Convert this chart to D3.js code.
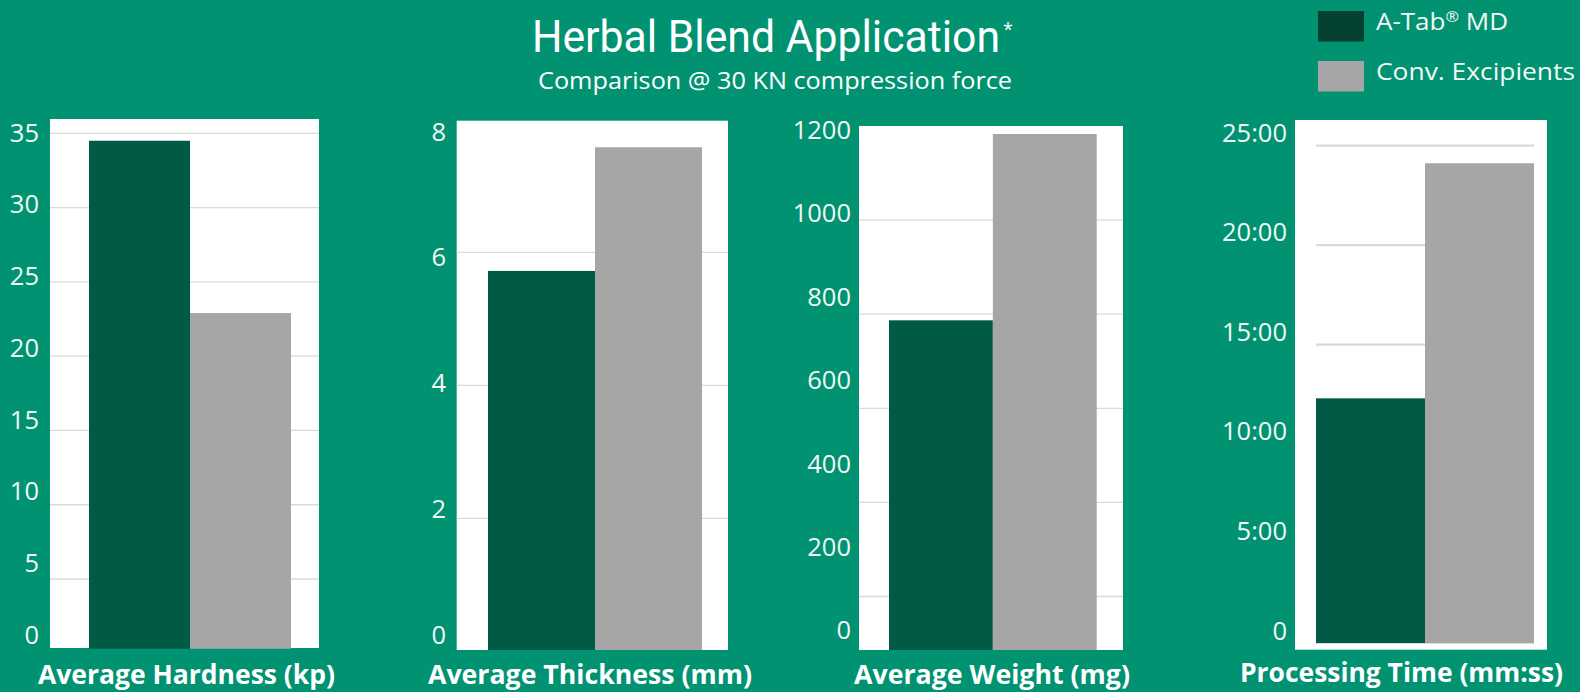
<!DOCTYPE html>
<html>
<head>
<meta charset="utf-8">
<script src="https://cdn.jsdelivr.net/npm/d3@7"></script>
<style>
  html, body { margin: 0; padding: 0; background: #019371; }
  svg { display: block; }
</style>
</head>
<body>
<script>
// ---------- DATA ----------
const seriesNames = ["A-Tab® MD", "Conv. Excipients"];
const metricNames = ["Average Hardness (kp)", "Average Thickness (mm)", "Average Weight (mg)", "Processing Time (mm:ss)"];
const aTabValues = [34.5, 5.72, 787, 738];      // last value in seconds (12:18)
const convValues = [22.9, 7.58, 1183, 1447];    // last value in seconds (24:07)
const hardnessTicks = [0, 5, 10, 15, 20, 25, 30, 35];
const thicknessTicks = [0, 2, 4, 6, 8];
const weightTicks = [0, 200, 400, 600, 800, 1000, 1200];
const timeTicks = [0, 300, 600, 900, 1200, 1500];
const titleText = "Herbal Blend Application";
const subtitleText = "Comparison @ 30 KN compression force";

// ---------- LAYOUT (positions only) ----------
const W = 1580, H = 692;
const layout = [
  { x0: 50, x1: 319, top: 119, bottom: 648, zeroY: 653.3, maxY: 133.3, clip: 648.7,
    bx0: 89, bx1: 291, lblRight: 39, lblZero: 634, lblMax: 132, titleX: 186.5, titleY: 684, titleW: 297, gx0: 50, gx1: 319, gw: 1.3 },
  { x0: 456.7, x1: 728, top: 120.7, bottom: 650, zeroY: 651.3, maxY: 119.3, clip: 650,
    bx0: 488, bx1: 702, lblRight: 446, lblZero: 634, lblMax: 131, titleX: 590, titleY: 684, titleW: 324, gx0: 456.7, gx1: 728, gw: 1.3 },
  { x0: 859, x1: 1123, top: 126, bottom: 650, zeroY: 690.6, maxY: 126, clip: 650,
    bx0: 889, bx1: 1096.7, lblRight: 851, lblZero: 629.6, lblMax: 129.4, titleX: 992, titleY: 684, titleW: 276, gx0: 859, gx1: 1123, gw: 1.3 },
  { x0: 1295, x1: 1547, top: 120, bottom: 649.7, zeroY: 643, maxY: 145.7, clip: 649.7,
    bx0: 1316, bx1: 1534, lblRight: 1287, lblZero: 630, lblMax: 132, titleX: 1401.5, titleY: 682, titleW: 323, gx0: 1316, gx1: 1534, gw: 2.2, baseline: true }
];
const tickSets = [hardnessTicks, thicknessTicks, weightTicks, timeTicks];
const fmtTime = s => s === 0 ? "0" : Math.floor(s / 60) + ":" + String(s % 60).padStart(2, "0");
const tickFormats = [d => d, d => d, d => d, fmtTime];

const colors = { bg: "#019371", dark: "#005a46", gray: "#a6a6a6", grid: "#dadada",
                 legendDark: "#044131", legendGray: "#a6a6a8", text: "#f2f8f5" };

const svg = d3.select("body").append("svg").attr("width", W).attr("height", H);
svg.append("rect").attr("width", W).attr("height", H).attr("fill", colors.bg);

const defs = svg.append("defs");

layout.forEach((L, i) => {
  const ticks = tickSets[i];
  const maxTick = ticks[ticks.length - 1];
  const values = [aTabValues[i], convValues[i]];
  const g = svg.append("g");

  // white plot panel
  g.append("rect").attr("x", L.x0).attr("y", L.top)
    .attr("width", L.x1 - L.x0).attr("height", L.bottom - L.top).attr("fill", "#ffffff");

  const y = d3.scaleLinear().domain([0, maxTick]).range([L.zeroY, L.maxY]);
  const x = d3.scaleBand().domain(seriesNames).range([L.bx0, L.bx1]).paddingInner(0).paddingOuter(0);

  // gridlines
  const gridTicks = ticks.filter(t => (t > 0 || L.baseline) && y(t) > L.top + 2 && y(t) < L.bottom);
  g.selectAll(".grid").data(gridTicks).join("line")
    .attr("x1", L.gx0).attr("x2", L.gx1)
    .attr("y1", d => y(d)).attr("y2", d => y(d))
    .attr("stroke", colors.grid).attr("stroke-width", L.gw);

  // clip
  const cid = "clip" + i;
  defs.append("clipPath").attr("id", cid).append("rect")
    .attr("x", L.x0 - 5).attr("y", 0).attr("width", L.x1 - L.x0 + 10).attr("height", L.clip);

  g.append("g").attr("clip-path", `url(#${cid})`)
    .selectAll("rect").data(values).join("rect")
    .attr("x", (d, j) => x(seriesNames[j]))
    .attr("width", x.bandwidth())
    .attr("y", d => y(d))
    .attr("height", d => y(0) - y(d))
    .attr("fill", (d, j) => j === 0 ? colors.dark : colors.gray);

  // tick labels via axis on label-position scale
  const yl = d3.scaleLinear().domain([0, maxTick]).range([L.lblZero, L.lblMax]);
  const ax = g.append("g").attr("transform", `translate(${L.lblRight + 9},0)`)
    .call(d3.axisLeft(yl).tickValues(ticks).tickFormat(tickFormats[i]).tickSize(0).tickPadding(9));
  ax.select(".domain").remove();
  ax.selectAll("text")
    .attr("fill", colors.text)
    .attr("font-family", "'Open Sans', sans-serif")
    .attr("font-size", 25.5)
    .attr("dy", "0.36em");

  // axis title
  g.append("text").attr("x", L.titleX).attr("y", L.titleY)
    .attr("text-anchor", "middle")
    .attr("font-family", "'Open Sans', sans-serif").attr("font-weight", 700)
    .attr("font-size", 26.5).attr("fill", "#ffffff")
    .attr("textLength", L.titleW).attr("lengthAdjust", "spacingAndGlyphs")
    .text(metricNames[i]);
});

// Title with superscript asterisk
const title = svg.append("text").attr("x", 532).attr("y", 52.4)
  .attr("font-family", "Roboto, 'Open Sans', sans-serif").attr("font-size", 44)
  .attr("fill", "#ffffff");
title.append("tspan").attr("textLength", 468).attr("lengthAdjust", "spacingAndGlyphs").text(titleText);
title.append("tspan").attr("font-size", 18).attr("dx", 3).attr("dy", -16)
  .attr("font-family", "'Open Sans', sans-serif").text("*");

svg.append("text").attr("x", 538).attr("y", 88.5)
  .attr("font-family", "'Open Sans', sans-serif").attr("font-size", 24)
  .attr("fill", "#ffffff").attr("textLength", 474).attr("lengthAdjust", "spacingAndGlyphs")
  .text(subtitleText);

// Legend
const legendColors = [colors.legendDark, colors.legendGray];
const legendWidths = [132, 199];
const leg = svg.append("g");
seriesNames.forEach((name, j) => {
  leg.append("rect").attr("x", 1318).attr("y", 11 + j * 50)
    .attr("width", 46).attr("height", 30.5).attr("fill", legendColors[j]);
  const t = leg.append("text").attr("x", 1376).attr("y", 29.5 + j * 50.7)
    .attr("font-family", "'Open Sans', sans-serif").attr("font-size", 24)
    .attr("fill", colors.text)
    .attr("textLength", legendWidths[j]).attr("lengthAdjust", "spacingAndGlyphs");
  if (name.includes("®")) {
    const parts = name.split("®");
    t.append("tspan").text(parts[0]);
    t.append("tspan").attr("font-size", 15).attr("dy", -8).text("®");
    t.append("tspan").attr("dy", 8).text(parts[1]);
  } else {
    t.text(name);
  }
});
</script>
</body>
</html>
